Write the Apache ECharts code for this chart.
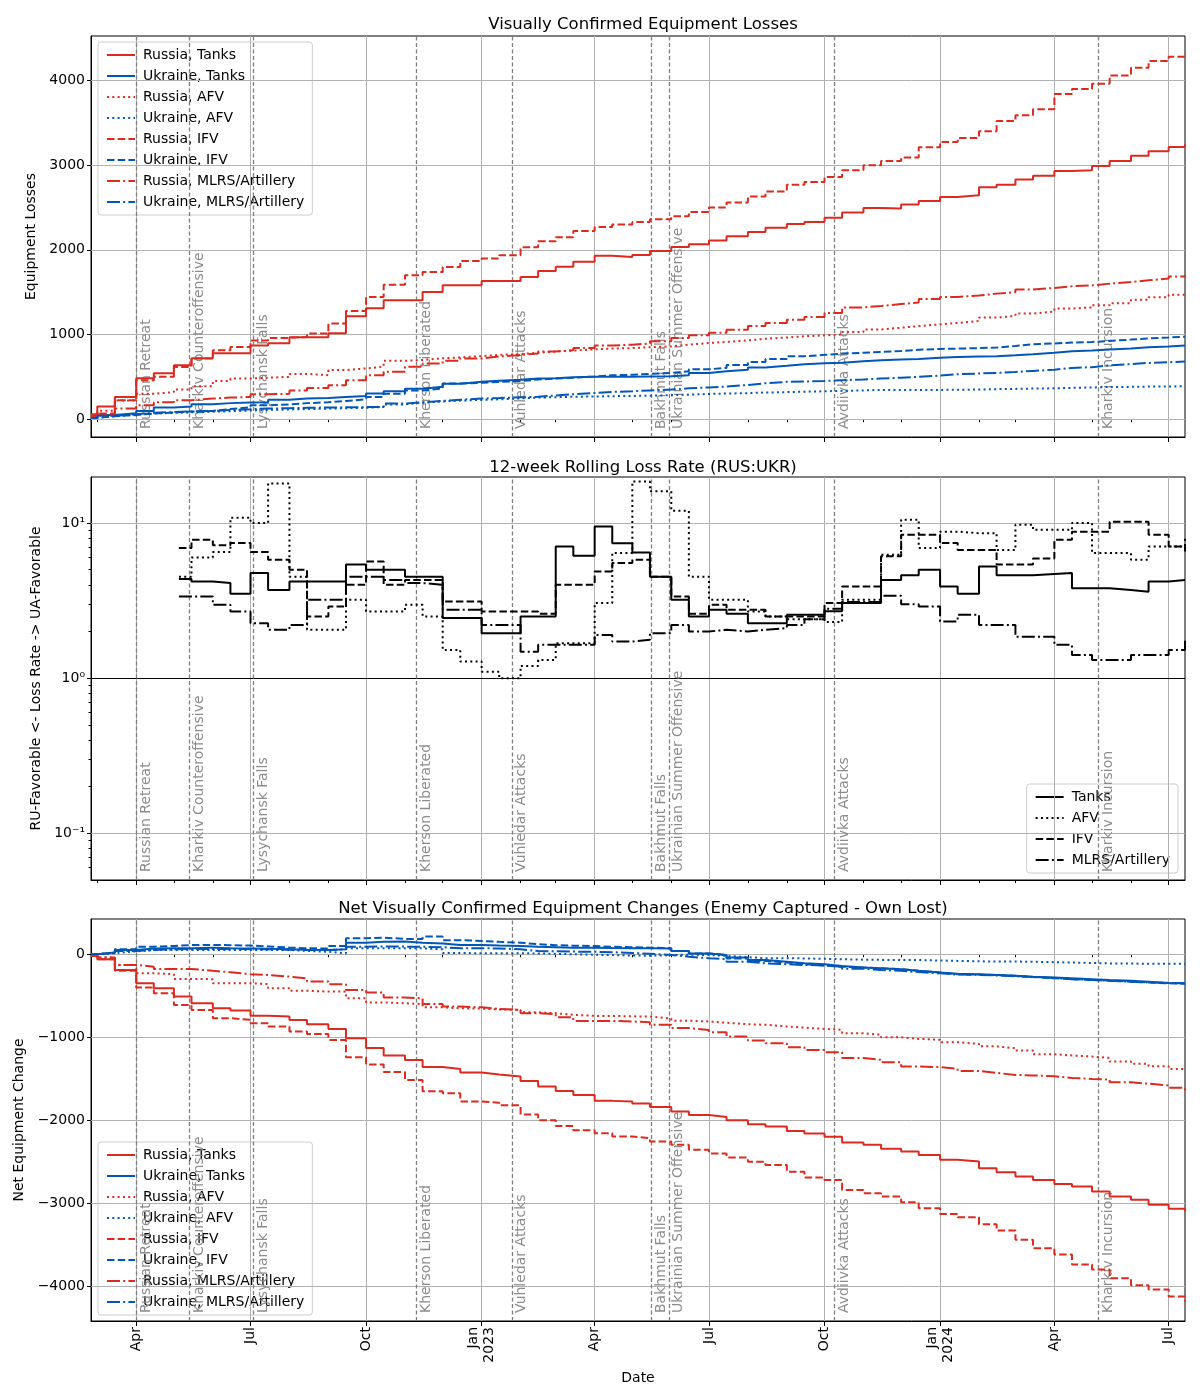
<!DOCTYPE html>
<html>
<head>
<meta charset="utf-8">
<script src="https://cdn.jsdelivr.net/npm/echarts@6/dist/echarts.min.js"></script>
<style>
  html, body { margin: 0; padding: 0; background: #fff; }
  #main { width: 1200px; height: 1400px; }
</style>
</head>
<body>
<div id="main"></div>
<script>
// sample dates (1st and 15th of each month)
var dates = [
  '2022-02-24','2022-03-01','2022-03-15','2022-04-01','2022-04-15','2022-05-01','2022-05-15','2022-06-01','2022-06-15','2022-07-01','2022-07-15',
  '2022-08-01','2022-08-15','2022-09-01','2022-09-15','2022-10-01','2022-10-15','2022-11-01','2022-11-15','2022-12-01','2022-12-15',
  '2023-01-01','2023-01-15','2023-02-01','2023-02-15','2023-03-01','2023-03-15','2023-04-01','2023-04-15','2023-05-01','2023-05-15','2023-06-01','2023-06-15',
  '2023-07-01','2023-07-15','2023-08-01','2023-08-15','2023-09-01','2023-09-15','2023-10-01','2023-10-15','2023-11-01','2023-11-15','2023-12-01','2023-12-15',
  '2024-01-01','2024-01-15','2024-02-01','2024-02-15','2024-03-01','2024-03-15','2024-04-01','2024-04-15','2024-05-01','2024-05-15','2024-06-01','2024-06-15',
  '2024-07-01','2024-07-14'
];

// cumulative losses
var ruTanks = [60,150,263,484,543,638,720,779,779,870,897,968,968,1015,1216,1310,1405,1405,1503,1582,1582,
  1633,1633,1680,1750,1800,1860,1930,1916,1940,1987,2034,2066,2110,2160,2210,2260,2305,2330,2380,2440,2495,2488,2535,2578,
  2625,2645,2740,2770,2830,2875,2930,2940,2990,3050,3110,3165,3215,3247];
var uaTanks = [20,50,70,98,138,150,177,190,197,200,230,244,250,263,275,303,330,360,382,420,441,
  455,465,480,485,495,500,500,500,505,508,520,545,565,585,610,630,650,660,668,685,697,705,710,725,
  736,740,744,755,767,785,803,810,823,835,850,860,870,877];
var ruAfv = [20,100,220,300,320,350,390,450,480,490,500,535,520,580,600,620,690,700,720,730,745,
  760,770,785,800,810,825,835,840,850,860,880,900,913,930,950,965,980,990,1000,1030,1060,1080,1100,1120,
  1137,1160,1200,1220,1248,1270,1307,1320,1346,1370,1410,1440,1470,1484];
var uaAfv = [15,35,55,67,75,82,88,95,102,110,115,120,125,130,135,145,175,195,210,220,228,
  235,245,255,260,265,268,272,275,278,283,290,298,303,308,315,320,325,330,335,340,346,346,346,346,
  348,350,355,358,362,365,370,375,380,382,385,387,389,390];
var ruIfv = [40,67,224,461,500,618,717,815,854,930,960,972,1011,1130,1279,1444,1589,1700,1739,1798,1869,
  1897,1936,2030,2100,2150,2223,2271,2300,2330,2362,2397,2448,2500,2560,2630,2690,2770,2802,2860,2940,3000,3050,3090,3210,
  3274,3320,3400,3520,3590,3660,3840,3900,3960,4060,4150,4230,4280,4317];
var uaIfv = [20,35,50,67,80,90,98,120,140,165,175,190,200,216,235,263,300,340,362,421,430,
  440,450,469,480,490,505,519,525,535,547,565,590,606,640,677,710,744,760,775,785,795,805,820,830,
  834,840,846,865,885,895,905,912,925,940,955,965,975,980];
var ruArt = [30,60,126,165,200,225,244,255,263,295,300,340,370,401,460,519,560,620,657,690,717,
  740,760,775,800,815,840,870,880,893,920,960,990,1020,1055,1100,1137,1175,1208,1255,1320,1338,1360,1377,1420,
  1444,1460,1483,1500,1531,1550,1570,1580,1601,1620,1640,1661,1685,1700];
var uaArt = [15,40,60,75,85,92,98,110,118,126,130,135,138,140,143,146,185,200,216,230,244,
  250,258,265,280,295,310,323,330,340,350,365,375,385,405,425,441,445,452,460,470,480,490,500,515,
  531,540,547,558,570,585,606,615,637,650,665,672,682,688];

// net changes (enemy captured - own lost)
var netRuTanks = [-20,-60,-189,-349,-410,-510,-590,-650,-679,-740,-751,-791,-843,-900,-1012,-1130,-1220,-1273,-1360,-1382,-1426,
  -1450,-1474,-1526,-1594,-1647,-1695,-1767,-1775,-1800,-1840,-1896,-1936,-1960,-2000,-2050,-2076,-2129,-2160,-2200,-2270,-2297,-2345,-2377,-2418,
  -2478,-2498,-2578,-2626,-2679,-2720,-2770,-2799,-2860,-2920,-2960,-3020,-3068,-3100];
var netUaTanks = [0,20,50,70,72,72,80,72,70,65,60,55,50,60,140,150,153,140,130,112,112,
  105,100,90,85,80,78,75,73,72,70,40,10,-10,-40,-70,-90,-108,-120,-140,-160,-169,-180,-200,-220,
  -235,-241,-250,-260,-270,-280,-289,-300,-310,-320,-330,-345,-349,-355];
var netRuAfv = [-10,-40,-129,-229,-240,-297,-300,-349,-349,-360,-410,-440,-450,-450,-530,-580,-590,-600,-640,-651,-655,
  -665,-671,-700,-711,-730,-743,-743,-748,-751,-775,-800,-810,-825,-843,-850,-870,-885,-900,-910,-952,-970,-1000,-1020,-1030,
  -1060,-1080,-1110,-1133,-1160,-1205,-1220,-1233,-1250,-1293,-1320,-1350,-1382,-1390];
var netUaAfv = [0,15,35,50,52,52,52,52,52,52,52,40,30,12,72,72,72,72,60,15,12,
  12,12,10,5,0,-5,-10,-15,-18,-10,-5,-10,-20,-35,-48,-48,-50,-55,-60,-65,-68,-68,-70,-75,
  -80,-85,-88,-88,-90,-95,-100,-105,-110,-112,-114,-115,-116,-116];
var netRuIfv = [-20,-60,-200,-400,-470,-610,-671,-771,-790,-830,-871,-932,-960,-1032,-1240,-1330,-1420,-1514,-1650,-1675,-1775,
  -1790,-1820,-1930,-2000,-2070,-2120,-2157,-2197,-2217,-2257,-2297,-2357,-2400,-2450,-2500,-2540,-2620,-2690,-2720,-2840,-2880,-2920,-2990,-3060,
  -3130,-3170,-3253,-3330,-3440,-3542,-3620,-3740,-3800,-3904,-3990,-4040,-4124,-4185];
var netUaIfv = [0,20,60,92,100,112,112,110,105,95,80,72,70,100,193,200,185,185,213,170,161,
  150,140,120,110,104,100,90,85,80,72,40,10,-10,-50,-80,-100,-120,-135,-150,-160,-169,-180,-200,-220,
  -241,-245,-250,-260,-275,-290,-300,-310,-320,-330,-340,-350,-355,-360];
var netRuArt = [-10,-40,-129,-150,-177,-177,-200,-217,-241,-250,-269,-290,-329,-360,-430,-460,-522,-530,-600,-631,-640,
  -660,-671,-710,-723,-760,-803,-803,-810,-819,-850,-890,-912,-940,-992,-1040,-1072,-1120,-1153,-1180,-1250,-1273,-1300,-1353,-1360,
  -1380,-1406,-1430,-1454,-1460,-1470,-1490,-1502,-1510,-1542,-1560,-1582,-1610,-1640];
var netUaArt = [0,15,40,52,60,64,64,64,64,60,55,50,50,60,92,95,92,90,85,72,72,
  70,60,40,35,32,30,25,15,5,-8,-30,-48,-60,-90,-110,-120,-129,-135,-150,-175,-189,-200,-215,-230,
  -245,-249,-255,-265,-275,-285,-300,-310,-320,-330,-340,-345,-349,-355];

// 12-week rolling loss rate RUS:UKR
var ratioDates = ['2022-05-05'].concat(dates.slice(dates.indexOf('2022-05-15')));
var rateTanks = [4.35,4.2,4.1,3.5,4.76,3.7,4.2,4.2,4.2,5.4,5.0,5.0,4.5,4.5,2.44,2.44,
  1.95,1.95,2.5,2.5,7.06,6.15,9.5,7.4,6.46,4.5,3.2,2.5,2.76,2.6,2.26,2.26,2.56,2.56,2.7,3.05,3.05,4.3,4.6,5.0,
  3.9,3.5,5.25,4.6,4.6,4.7,4.76,3.8,3.8,3.7,3.6,4.2,4.3,4.3];
var rateAfv = [4.5,6.0,6.5,10.8,10.0,18.0,4.5,2.05,2.05,3.2,2.69,2.69,2.97,2.5,1.52,1.28,
  1.1,1.0,1.2,1.31,1.68,1.68,3.05,6.4,18.5,16,12,4.5,3.2,3.2,2.69,2.5,2.4,2.4,2.3,3.2,3.2,6.24,10.5,6.9,
  8.8,8.6,8.6,6.7,9.75,9.05,9.05,10.0,6.4,6.4,5.8,7.06,7.06,8.2];
var rateIfv = [6.9,7.8,7.2,7.43,6.5,5.8,5.0,2.5,2.9,4.0,5.65,4.0,4.3,4.3,3.12,3.12,
  2.69,2.69,2.69,2.6,4.0,4.0,4.87,5.52,5.8,4.5,3.36,2.6,2.97,2.76,2.76,2.5,2.5,2.5,3.05,3.9,3.9,6.1,8.4,8.4,
  7.43,6.7,6.7,5.4,5.4,5.9,7.8,8.8,8.8,10.2,10.2,8.4,7.06,6.56];
var rateArt = [3.36,3.36,2.97,2.69,2.26,2.05,2.2,3.2,3.2,4.5,4.5,4.3,4.1,4.0,2.76,2.76,
  2.2,2.2,1.48,1.64,1.64,1.64,1.9,1.72,1.77,1.95,2.2,2.0,2.05,2.0,2.05,2.1,2.2,2.4,2.8,3.1,3.1,3.4,3.0,2.9,
  2.32,2.56,2.2,2.2,1.85,1.85,1.64,1.41,1.31,1.31,1.41,1.41,1.52,1.77];

var events = [
  ['2022-04-01', 'Russian Retreat'],
  ['2022-05-13', 'Kharkiv Counteroffensive'],
  ['2022-07-03', 'Lysychansk Falls'],
  ['2022-11-10', 'Kherson Liberated'],
  ['2023-01-25', 'Vuhledar Attacks'],
  ['2023-05-16', 'Bakhmut Falls'],
  ['2023-05-30', 'Ukrainian Summer Offensive'],
  ['2023-10-09', 'Avdiivka Attacks'],
  ['2024-05-06', 'Kharkiv Incursion']
];

var lossTicks = [0, 1000, 2000, 3000, 4000];
var netTicks = [-4000, -3000, -2000, -1000, 0];
var rateTicks = [0.1, 1, 10];
var rateMinor = [0.06,0.07,0.08,0.09,0.2,0.3,0.4,0.5,0.6,0.7,0.8,0.9,2,3,4,5,6,7,8,9];

var RED = '#dc2a1e', BLUE = '#0057b7';
var FONT = 'DejaVu Sans';
var xMin = Date.parse('2022-02-24'), xMax = Date.parse('2024-07-14');
var monNames = ['Jan','Feb','Mar','Apr','May','Jun','Jul','Aug','Sep','Oct','Nov','Dec'];

// month starts for ticks
var monthTicks = [], quarterTicks = [];
for (var y = 2022; y <= 2024; y++) {
  for (var m = 0; m < 12; m++) {
    var t = Date.UTC(y, m, 1);
    if (t < xMin || t > xMax) continue;
    monthTicks.push(t);
    if (m % 3 === 0) quarterTicks.push(t);
  }
}

var dashes = {
  solid: 'solid',
  dotted: [2, 3.3],
  dashed: [7.5, 3.2],
  dashdot: [13, 3.2, 2, 3.2]
};

function pts(ds, vals) {
  return ds.map(function(d, i) { return [Date.parse(d), vals[i]]; });
}

function stepLine(name, g, ds, vals, color, dash) {
  return {
    name: name, type: 'line', step: 'end', xAxisIndex: g, yAxisIndex: g,
    data: pts(ds, vals), symbol: 'none', z: 5,
    lineStyle: { color: color, width: 2, type: dash, cap: 'butt' },
    itemStyle: { color: color }
  };
}

function gridLines(g, yVals) {
  var d = quarterTicks.map(function(t) { return { xAxis: t }; });
  yVals.forEach(function(v) { d.push({ yAxis: v }); });
  return {
    type: 'line', xAxisIndex: g, yAxisIndex: g, data: [], z: 1, silent: true,
    markLine: {
      silent: true, symbol: 'none', animation: false, precision: 10,
      label: { show: false },
      lineStyle: { color: '#b0b0b0', width: 1, type: 'solid' },
      data: d
    }
  };
}

function eventLines(g) {
  return {
    type: 'line', xAxisIndex: g, yAxisIndex: g, data: [], z: 2, silent: true,
    markLine: {
      silent: true, symbol: 'none', animation: false,
      lineStyle: { color: '#7f7f7f', width: 1.3, type: [4, 2.5] },
      label: {
        show: true, position: 'insideStartBottom', color: '#8c8c8c',
        fontFamily: FONT, fontSize: 14, distance: [8, 3]
      },
      data: events.map(function(e) {
        return { xAxis: Date.parse(e[0]), label: { formatter: e[1] } };
      })
    }
  };
}

var series = [];
[[0, ''], [2, 'net']].forEach(function(p) {
  var g = p[0], net = p[1] === 'net';
  series.push(stepLine('Russia, Tanks', g, dates, net ? netRuTanks : ruTanks, RED, dashes.solid));
  series.push(stepLine('Ukraine, Tanks', g, dates, net ? netUaTanks : uaTanks, BLUE, dashes.solid));
  series.push(stepLine('Russia, AFV', g, dates, net ? netRuAfv : ruAfv, RED, dashes.dotted));
  series.push(stepLine('Ukraine, AFV', g, dates, net ? netUaAfv : uaAfv, BLUE, dashes.dotted));
  series.push(stepLine('Russia, IFV', g, dates, net ? netRuIfv : ruIfv, RED, dashes.dashed));
  series.push(stepLine('Ukraine, IFV', g, dates, net ? netUaIfv : uaIfv, BLUE, dashes.dashed));
  series.push(stepLine('Russia, MLRS/Artillery', g, dates, net ? netRuArt : ruArt, RED, dashes.dashdot));
  series.push(stepLine('Ukraine, MLRS/Artillery', g, dates, net ? netUaArt : uaArt, BLUE, dashes.dashdot));
});
series.push(stepLine('Tanks', 1, ratioDates, rateTanks, '#000', dashes.solid));
series.push(stepLine('AFV', 1, ratioDates, rateAfv, '#000', dashes.dotted));
series.push(stepLine('IFV', 1, ratioDates, rateIfv, '#000', dashes.dashed));
series.push(stepLine('MLRS/Artillery', 1, ratioDates, rateArt, '#000', dashes.dashdot));

series.push(gridLines(0, lossTicks));
series.push(gridLines(1, [0.1, 10]));
series.push(gridLines(2, netTicks));
series.push({
  type: 'line', xAxisIndex: 1, yAxisIndex: 1, data: [], z: 3, silent: true,
  markLine: {
    silent: true, symbol: 'none', animation: false, label: { show: false },
    lineStyle: { color: '#000', width: 1.2, type: 'solid' },
    data: [{ yAxis: 1 }]
  }
});
series.push(eventLines(0));
series.push(eventLines(1));
series.push(eventLines(2));

var grids = [
  { left: 91, top: 36, width: 1094, height: 401 },
  { left: 91, top: 477, width: 1094, height: 403 },
  { left: 91, top: 919, width: 1094, height: 402 }
];
grids.forEach(function(g) { g.show = true; g.borderColor = '#000'; g.borderWidth = 1; g.backgroundColor = 'transparent'; });

function xAxisFor(g, withLabels) {
  return {
    type: 'value', gridIndex: g, min: xMin, max: xMax,
    axisLine: { show: true, onZero: false, lineStyle: { color: '#000', width: 1 } },
    axisTick: { show: true, customValues: quarterTicks, length: 5, lineStyle: { color: '#000' } },
    axisLabel: {
      show: withLabels, customValues: quarterTicks, rotate: 90, margin: 6,
      color: '#000', fontFamily: FONT, fontSize: 14, lineHeight: 16,
      formatter: function(v) {
        var d = new Date(v);
        var s = monNames[d.getUTCMonth()];
        if (d.getUTCMonth() === 0) s += '\n' + d.getUTCFullYear();
        return s;
      }
    },
    splitLine: { show: false },
    name: withLabels ? 'Date' : '', nameLocation: 'middle', nameGap: 50,
    nameTextStyle: { color: '#000', fontFamily: FONT, fontSize: 14 }
  };
}
function minorX(g) {
  return {
    type: 'value', gridIndex: g, min: xMin, max: xMax, position: 'bottom',
    axisLine: { show: false },
    axisTick: { show: true, customValues: monthTicks, length: 3, lineStyle: { color: '#000' } },
    axisLabel: { show: false }, splitLine: { show: false }
  };
}

var tickFont = { color: '#000', fontFamily: FONT, fontSize: 14, margin: 6 };
function minusFmt(v) { return String(v).replace('-', '\u2212'); }

function legendFor(names, pos) {
  var l = {
    data: names, orient: 'vertical', itemGap: 7, itemWidth: 28, itemHeight: 14,
    padding: [6, 8, 6, 8], backgroundColor: 'rgba(255,255,255,0.8)', borderColor: '#cccccc',
    borderWidth: 1, borderRadius: 3, selectedMode: false,
    itemStyle: { opacity: 0 },
    textStyle: { fontFamily: FONT, fontSize: 14, color: '#000', padding: [0, 0, 0, 3] }
  };
  return Object.assign(l, pos);
}
var countryNames = ['Russia, Tanks','Ukraine, Tanks','Russia, AFV','Ukraine, AFV','Russia, IFV','Ukraine, IFV','Russia, MLRS/Artillery','Ukraine, MLRS/Artillery'];

var option = {
  animation: false,
  textStyle: { fontFamily: FONT },
  title: [
    { text: 'Visually Confirmed Equipment Losses', left: 638, top: 11, textAlign: 'center',
      textStyle: { fontFamily: FONT, fontSize: 16.5, fontWeight: 'normal', color: '#000' } },
    { text: '12-week Rolling Loss Rate (RUS:UKR)', left: 638, top: 454, textAlign: 'center',
      textStyle: { fontFamily: FONT, fontSize: 16.5, fontWeight: 'normal', color: '#000' } },
    { text: 'Net Visually Confirmed Equipment Changes (Enemy Captured - Own Lost)', left: 638, top: 895, textAlign: 'center',
      textStyle: { fontFamily: FONT, fontSize: 16.5, fontWeight: 'normal', color: '#000' } }
  ],
  grid: grids,
  xAxis: [xAxisFor(0, false), xAxisFor(1, false), xAxisFor(2, true), minorX(0), minorX(1), minorX(2)],
  yAxis: [
    {
      type: 'value', gridIndex: 0, min: -210, max: 4525,
      axisLine: { show: true, lineStyle: { color: '#000' } },
      axisTick: { show: true, customValues: lossTicks, length: 4, lineStyle: { color: '#000' } },
      axisLabel: Object.assign({ customValues: lossTicks, formatter: minusFmt }, tickFont),
      splitLine: { show: false },
      name: 'Equipment Losses', nameLocation: 'middle', nameGap: 49,
      nameTextStyle: { color: '#000', fontFamily: FONT, fontSize: 14 }
    },
    {
      type: 'log', logBase: 10, gridIndex: 1, min: 0.05, max: 19.8,
      axisLine: { show: true, lineStyle: { color: '#000' } },
      axisTick: { show: true, customValues: rateTicks, length: 4, lineStyle: { color: '#000' } },
      axisLabel: Object.assign({
        customValues: rateTicks,
        formatter: function(v) {
          if (v < 0.5) return '10\u207B\u00B9';
          if (v < 5) return '10\u2070';
          return '10\u00B9';
        }
      }, tickFont),
      splitLine: { show: false },
      name: 'RU-Favorable <- Loss Rate -> UA-Favorable', nameLocation: 'middle', nameGap: 48,
      nameTextStyle: { color: '#000', fontFamily: FONT, fontSize: 14 }
    },
    {
      type: 'value', gridIndex: 2, min: -4420, max: 425,
      axisLine: { show: true, lineStyle: { color: '#000' } },
      axisTick: { show: true, customValues: netTicks, length: 4, lineStyle: { color: '#000' } },
      axisLabel: Object.assign({ customValues: netTicks, formatter: minusFmt }, tickFont),
      splitLine: { show: false },
      name: 'Net Equipment Change', nameLocation: 'middle', nameGap: 59,
      nameTextStyle: { color: '#000', fontFamily: FONT, fontSize: 14 }
    },
    {
      type: 'log', logBase: 10, gridIndex: 1, min: 0.05, max: 19.8, position: 'left',
      axisLine: { show: false },
      axisTick: { show: true, customValues: rateMinor, length: 2.5, lineStyle: { color: '#000' } },
      axisLabel: { show: false }, splitLine: { show: false }
    }
  ],
  legend: [
    legendFor(countryNames, { left: 98, top: 42 }),
    legendFor(['Tanks','AFV','IFV','MLRS/Artillery'], { right: 22, top: 784 }),
    legendFor(countryNames, { left: 98, top: 1142 })
  ],
  series: series
};

var chart = echarts.init(document.getElementById('main'), null, { renderer: 'canvas' });
chart.setOption(option);
</script>
</body>
</html>
